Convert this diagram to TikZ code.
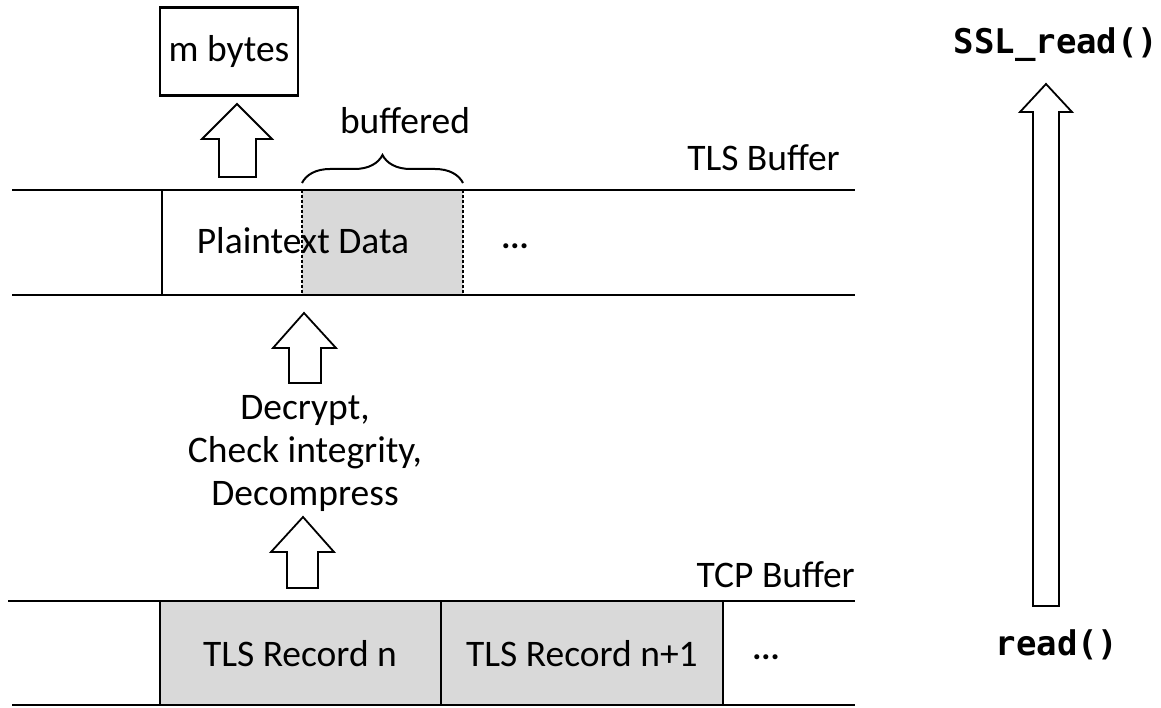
\documentclass[tikz,border=0pt]{standalone}
\usepackage{fontspec}
\setmainfont{Carlito}
\newfontfamily\codefont{DejaVu Sans Mono}
\usetikzlibrary{decorations.pathreplacing}
\begin{document}
\begin{tikzpicture}[x=1pt,y=-1pt,
  buf/.style={line width=2.8pt},
  blockarrow/.style={draw,line width=1.8pt,fill=white,line join=miter},
  rec/.style={draw,line width=2.4pt,fill=black!15},
  lbl/.style={font=\fontsize{37.5}{43}\selectfont,inner sep=0pt,align=center},
  dotsty/.style={font=\bfseries\fontsize{34}{40}\selectfont,inner sep=0pt},
  code/.style={font=\codefont\bfseries\fontsize{34}{40}\selectfont,inner sep=0pt}]
\useasboundingbox (0,0) rectangle (1161,708);
% m bytes box
\node[draw,line width=2.6pt,minimum width=138pt,minimum height=88pt,inner sep=0pt,lbl] (mb) at (229,51.5) {m bytes};
% buffered grey region
\fill[black!15] (302,190) rectangle (463,295);
\draw[line width=1.4pt,dash pattern=on 3pt off 2pt] (302,190) -- (302,295) (463,190) -- (463,295);
% TLS buffer lines
\draw[buf] (12,190) -- (855,190);
\draw[buf] (12,295) -- (855,295);
\draw[line width=2.6pt] (162,190) -- (162,295);
% brace
\draw[line width=2pt,decorate,decoration={brace,amplitude=28pt,aspect=0.5}] (302,183) -- (463,183);
\node[lbl] (buffered) at (405,121) {buffered};
\node[lbl,anchor=east] (tlsbuf) at (840,158) {TLS Buffer};
\node[lbl] (plain) at (303,241) {Plaintext Data};
\node[dotsty] (dots1) at (515,246) {...};
% arrow to m bytes
\draw[blockarrow] (237,104) -- (272,139) -- (256,139) -- (256,177) -- (219,177) -- (219,139) -- (202,139) -- cycle;
% middle arrow
\draw[blockarrow] (304,313) -- (336,348) -- (321,348) -- (321,383) -- (289,383) -- (289,348) -- (273,348) -- cycle;
\node[lbl] (steps) at (305,453) {Decrypt,\\Check integrity,\\Decompress};
% lower arrow
\draw[blockarrow] (303,517) -- (334,552) -- (318,552) -- (318,588) -- (287,588) -- (287,552) -- (271,552) -- cycle;
% TCP buffer
\node[lbl,anchor=east] (tcpbuf) at (855,575) {TCP Buffer};
\draw[rec] (160,601) rectangle (441,705);
\draw[rec] (441,601) rectangle (723,705);
\draw[buf] (8,601) -- (855,601);
\draw[buf] (12,705) -- (855,705);
\node[lbl] (rec1) at (300,654) {TLS Record n};
\node[lbl] (rec2) at (582,654) {TLS Record n+1};
\node[dotsty] (dots2) at (766,657) {...};
% right side
\node[code] (sslread) at (1056,45) {SSL\_read()};
\node[code] (read) at (1057,645) {read()};
\draw[blockarrow] (1046,84) -- (1072,112) -- (1059,112) -- (1059,606) -- (1033,606) -- (1033,112) -- (1020,112) -- cycle;
\end{tikzpicture}
\end{document}
